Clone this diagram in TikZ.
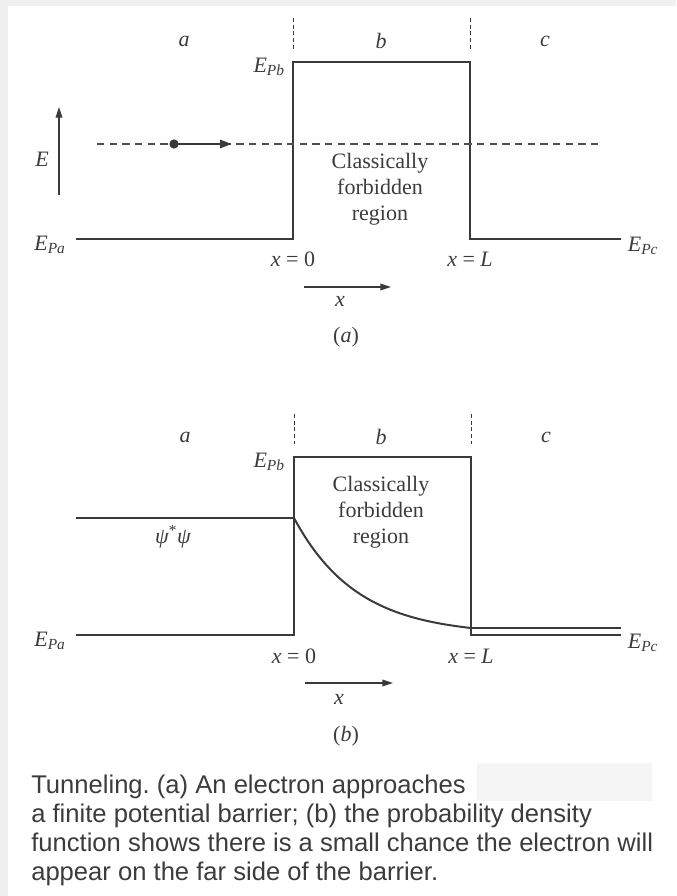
\documentclass[tikz,border=0pt]{standalone}
\usepackage{fontspec}
\setmainfont{Liberation Serif}
\newfontfamily\capfont{Liberation Sans}
\usetikzlibrary{arrows.meta}
\definecolor{ink}{HTML}{3A3A3A}
\definecolor{txt}{HTML}{3C3C3C}
\definecolor{edge}{HTML}{F0F0F0}
\definecolor{boxg}{HTML}{F5F5F5}
\frenchspacing
\begin{document}
\begin{tikzpicture}[x=0.75pt,y=-0.75pt,
  pot/.style={draw=ink, line width=1.5pt},
  sepline/.style={draw=ink, line width=0.7pt, dash pattern=on 3pt off 2pt},
  lbl/.style={text=txt, font=\fontsize{16.5}{19.5}\selectfont, inner sep=0pt},
  multi/.style={lbl, align=center},
  arr/.style={draw=ink, line width=1pt, -{Triangle[length=8pt,width=5pt]}},
  caption/.style={text=txt, font=\capfont\fontsize{19.2}{21}\selectfont, inner sep=0pt, anchor=base west}]
\useasboundingbox (0,0) rectangle (676,896);
\fill[edge] (0,0) rectangle (676,896);
\fill[white] (8,6) rectangle (676,896);

% ---------- panel (a) ----------
\coordinate (aL) at (76,239);
\coordinate (a0b) at (293,239);
\coordinate (a0t) at (293,62);
\coordinate (aLt) at (470,62);
\coordinate (aLb) at (470,239);
\coordinate (aR) at (621,239);
\draw[pot] (aL) -- (a0b) -- (a0t) -- (aLt) -- (aLb) -- (aR);

\coordinate (s1t) at (293,18); \coordinate (s1b) at (293,49);
\coordinate (s2t) at (470,18); \coordinate (s2b) at (470,49);
\draw[sepline] (s1t) -- (s1b);
\draw[sepline] (s2t) -- (s2b);

\node[lbl] (la) at (184,41) {\itshape a};
\node[lbl] (lb) at (381,41) {\itshape b};
\node[lbl] (lc) at (545,41) {\itshape c};

\node[lbl, anchor=east] (EPb) at (285,67) {\itshape E\textsubscript{Pb}};
\node[lbl] (EPa) at (50,245) {\itshape E\textsubscript{Pa}};
\node[lbl] (EPc) at (643,246) {\itshape E\textsubscript{Pc}};

\coordinate (eL) at (97,144);
\coordinate (eR) at (601,144);
\draw[draw=ink!90, line width=1.5pt, dash pattern=on 5.5pt off 4pt] (eL) -- (eR);
\node[circle, fill=ink, inner sep=0pt, minimum size=7pt] (dot) at (174,144) {};
\coordinate (dotend) at (232,144);
\draw[draw=ink, line width=2pt, -{Triangle[length=9pt,width=6pt]}] (dot) -- (dotend);

\coordinate (Eb) at (59,195);
\coordinate (Et) at (59,107);
\draw[arr] (Eb) -- (Et);
\node[lbl] (E) at (42,159) {\itshape E};

\node[multi] (cfa) at (380,189) {Classically\\forbidden\\region};

\node[lbl] (x0a) at (293,259) {\itshape x\/\normalfont\ = 0};
\node[lbl] (xLa) at (470,259) {\itshape x\/\normalfont\ = \itshape L};

\coordinate (xaL) at (304,287);
\coordinate (xaR) at (391,287);
\draw[arr] (xaL) -- (xaR);
\node[lbl] (xa) at (340,301) {\itshape x};
\node[lbl] (capa) at (346,337) {(\textit{a})};

% ---------- panel (b) ----------
\coordinate (bL) at (76,635);
\coordinate (b0b) at (294,635);
\coordinate (b0t) at (294,457);
\coordinate (bLt) at (471,457);
\coordinate (bLb) at (471,635);
\coordinate (bR) at (621,635);
\draw[pot] (bL) -- (b0b) -- (b0t) -- (bLt) -- (bLb) -- (bR);

\coordinate (t1t) at (294,414); \coordinate (t1b) at (294,444);
\coordinate (t2t) at (471,414); \coordinate (t2b) at (471,444);
\draw[sepline] (t1t) -- (t1b);
\draw[sepline] (t2t) -- (t2b);

\node[lbl] (lba) at (185,437) {\itshape a};
\node[lbl] (lbb) at (381,437) {\itshape b};
\node[lbl] (lbc) at (546,437) {\itshape c};

\node[lbl, anchor=east] (EPbb) at (285,462) {\itshape E\textsubscript{Pb}};
\node[lbl] (EPab) at (50,641) {\itshape E\textsubscript{Pa}};
\node[lbl] (EPcb) at (643,643) {\itshape E\textsubscript{Pc}};

\coordinate (pL) at (76,518);
\coordinate (p0) at (294,518);
\draw[pot] (pL) -- (p0);
\draw[pot] plot[domain=0:177, samples=60, smooth] ({294+\x},{635-117*exp(-0.0159*\x)});
\coordinate (pc) at (471,628);
\coordinate (pR) at (621,628);
\draw[pot] (pc) -- (pR);
\node[lbl] (psi) at (173,537) {\itshape ψ\textsuperscript{\normalfont *}ψ};

\node[multi] (cfb) at (381,512) {Classically\\forbidden\\region};

\node[lbl] (x0b) at (294,656) {\itshape x\/\normalfont\ = 0};
\node[lbl] (xLb) at (471,656) {\itshape x\/\normalfont\ = \itshape L};

\coordinate (xbL) at (305,683);
\coordinate (xbR) at (393,683);
\draw[arr] (xbL) -- (xbR);
\node[lbl] (xb) at (339,699) {\itshape x};
\node[lbl] (capb) at (346,736) {(\textit{b})};

% ---------- caption ----------
\fill[boxg] (477,763) rectangle (652,801);
\node[caption] (c1) at (31,793) {Tunneling. (a) An electron approaches};
\node[caption] (c2) at (31,822) {a finite potential barrier; (b) the probability density};
\node[caption] (c3) at (31,851) {function shows there is a small chance the electron will};
\node[caption] (c4) at (31,880) {appear on the far side of the barrier.};
\end{tikzpicture}
\end{document}
